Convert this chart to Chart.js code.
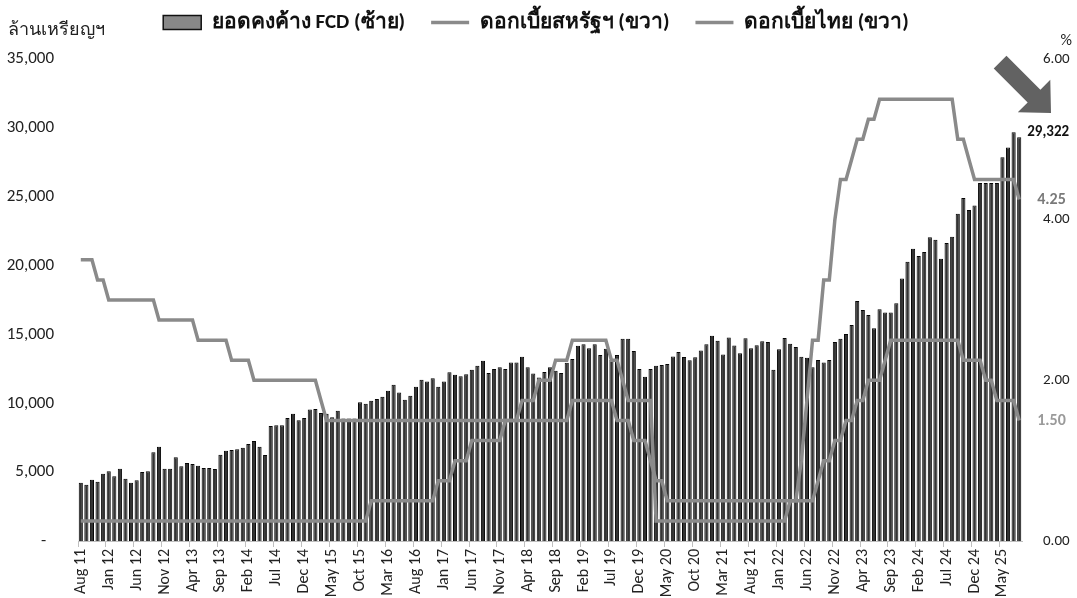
<!DOCTYPE html>
<html>
<head>
<meta charset="utf-8">
<script src="https://cdn.jsdelivr.net/npm/chart.js@4/dist/chart.umd.min.js"></script>
<style>
  html, body { margin: 0; padding: 0; background: #fff; }
  #wrap { width: 1077px; height: 598px; }
</style>
</head>
<body>
<div id="wrap"><canvas id="chart" width="1077" height="598"></canvas></div>
<script>
// Monthly data, Aug 2011 - Aug 2025
var startYear = 2011;
var startMonth = 7; // August
var monthNames = ['Jan', 'Feb', 'Mar', 'Apr', 'May', 'Jun', 'Jul', 'Aug', 'Sep', 'Oct', 'Nov', 'Dec'];

// FCD outstanding, million USD (left axis)
var fcdBalance = [
  4230, 4090, 4450, 4300, 4890, 5060, 4700, 5250, 4520, 4230, 4410, 5010,
  5060, 6440, 6850, 5250, 5250, 6080, 5420, 5660, 5590, 5470, 5300, 5300,
  5230, 6270, 6560, 6610, 6660, 6770, 7040, 7260, 6850, 6240, 8350, 8400,
  8400, 8930, 9240, 8760, 8930, 9540, 9580, 9290, 9240, 8980, 9460, 8900,
  8900, 8900, 10070, 9970, 10190, 10310, 10480, 10910, 11350, 10790, 10260, 10550,
  11200, 11710, 11590, 11810, 11200, 11590, 12250, 12070, 11960, 12100, 12440, 12730,
  13090, 12200, 12490, 12610, 12490, 12970, 12970, 13380, 12610, 12170, 11880, 12270,
  12610, 12370, 12200, 12940, 13210, 14180, 14280, 13990, 14280, 13500, 13960, 13140,
  13500, 14690, 14690, 13790, 12490, 11930, 12490, 12730, 12780, 12850, 13400, 13720,
  13360, 13130, 13340, 13830, 14280, 14900, 14550, 13550, 14780, 14200, 13630, 14730,
  13990, 14210, 14500, 14450, 12440, 13920, 14740, 14330, 14080, 13380, 13310, 12610,
  13140, 12970, 13140, 14450, 14690, 15030, 15680, 17430, 16770, 16410, 15440, 16820,
  16600, 16600, 17260, 19070, 20280, 21220, 20690, 20980, 22050, 21870, 20500, 21630,
  22090, 23760, 24900, 24030, 24370, 26000, 26000, 26000, 26000, 27860, 28580, 29690,
  29322
];

// US policy rate, % (right axis)
var usRate = [
  0.25, 0.25, 0.25, 0.25, 0.25, 0.25, 0.25, 0.25, 0.25, 0.25, 0.25, 0.25,
  0.25, 0.25, 0.25, 0.25, 0.25, 0.25, 0.25, 0.25, 0.25, 0.25, 0.25, 0.25,
  0.25, 0.25, 0.25, 0.25, 0.25, 0.25, 0.25, 0.25, 0.25, 0.25, 0.25, 0.25,
  0.25, 0.25, 0.25, 0.25, 0.25, 0.25, 0.25, 0.25, 0.25, 0.25, 0.25, 0.25,
  0.25, 0.25, 0.25, 0.25, 0.50, 0.50, 0.50, 0.50, 0.50, 0.50, 0.50, 0.50,
  0.50, 0.50, 0.50, 0.50, 0.75, 0.75, 0.75, 1.00, 1.00, 1.00, 1.25, 1.25,
  1.25, 1.25, 1.25, 1.25, 1.50, 1.50, 1.50, 1.75, 1.75, 1.75, 2.00, 2.00,
  2.00, 2.25, 2.25, 2.25, 2.50, 2.50, 2.50, 2.50, 2.50, 2.50, 2.50, 2.25,
  2.25, 2.00, 1.75, 1.75, 1.75, 1.75, 1.75, 0.25, 0.25, 0.25, 0.25, 0.25,
  0.25, 0.25, 0.25, 0.25, 0.25, 0.25, 0.25, 0.25, 0.25, 0.25, 0.25, 0.25,
  0.25, 0.25, 0.25, 0.25, 0.25, 0.25, 0.25, 0.50, 0.50, 1.00, 1.75, 2.50,
  2.50, 3.25, 3.25, 4.00, 4.50, 4.50, 4.75, 5.00, 5.00, 5.25, 5.25, 5.50,
  5.50, 5.50, 5.50, 5.50, 5.50, 5.50, 5.50, 5.50, 5.50, 5.50, 5.50, 5.50,
  5.50, 5.00, 5.00, 4.75, 4.50, 4.50, 4.50, 4.50, 4.50, 4.50, 4.50, 4.50,
  4.25
];

// Thai policy rate, % (right axis)
var thaiRate = [
  3.50, 3.50, 3.50, 3.25, 3.25, 3.00, 3.00, 3.00, 3.00, 3.00, 3.00, 3.00,
  3.00, 3.00, 2.75, 2.75, 2.75, 2.75, 2.75, 2.75, 2.75, 2.50, 2.50, 2.50,
  2.50, 2.50, 2.50, 2.25, 2.25, 2.25, 2.25, 2.00, 2.00, 2.00, 2.00, 2.00,
  2.00, 2.00, 2.00, 2.00, 2.00, 2.00, 2.00, 1.75, 1.50, 1.50, 1.50, 1.50,
  1.50, 1.50, 1.50, 1.50, 1.50, 1.50, 1.50, 1.50, 1.50, 1.50, 1.50, 1.50,
  1.50, 1.50, 1.50, 1.50, 1.50, 1.50, 1.50, 1.50, 1.50, 1.50, 1.50, 1.50,
  1.50, 1.50, 1.50, 1.50, 1.50, 1.50, 1.50, 1.50, 1.50, 1.50, 1.50, 1.50,
  1.50, 1.50, 1.50, 1.50, 1.75, 1.75, 1.75, 1.75, 1.75, 1.75, 1.75, 1.75,
  1.50, 1.50, 1.50, 1.25, 1.25, 1.25, 1.00, 0.75, 0.75, 0.50, 0.50, 0.50,
  0.50, 0.50, 0.50, 0.50, 0.50, 0.50, 0.50, 0.50, 0.50, 0.50, 0.50, 0.50,
  0.50, 0.50, 0.50, 0.50, 0.50, 0.50, 0.50, 0.50, 0.50, 0.50, 0.50, 0.50,
  0.75, 1.00, 1.00, 1.25, 1.25, 1.50, 1.50, 1.75, 1.75, 2.00, 2.00, 2.00,
  2.25, 2.50, 2.50, 2.50, 2.50, 2.50, 2.50, 2.50, 2.50, 2.50, 2.50, 2.50,
  2.50, 2.50, 2.25, 2.25, 2.25, 2.25, 2.00, 2.00, 1.75, 1.75, 1.75, 1.75,
  1.50
];

var seriesNames = ['ยอดคงค้าง FCD (ซ้าย)', 'ดอกเบี้ยสหรัฐฯ (ขวา)', 'ดอกเบี้ยไทย (ขวา)'];
var leftUnit = 'ล้านเหรียญฯ';
var rightUnit = '%';

// category labels like "Aug 11"
var labels = fcdBalance.map(function (v, i) {
  var m = startMonth + i;
  var yy = (startYear + Math.floor(m / 12)) % 100;
  return monthNames[m % 12] + ' ' + (yy < 10 ? '0' + yy : yy);
});

var FONT = 'Calibri, Carlito, "Liberation Sans", "Noto Sans", sans-serif';
var LINE_GREY = '#8a8a8a';

// fixed legend height so the plot starts where the reference does,
// and pull the legend row up a little (its padding also spaces the items)
var legendHeight = {
  id: 'legendHeight',
  beforeInit: function (chart) {
    var fit = chart.legend.fit;
    chart.legend.fit = function () {
      fit.bind(chart.legend)();
      this.height = 59;
    };
  },
  afterLayout: function (chart) {
    chart.legend.top -= 14;
    chart.legend.bottom -= 14;
  }
};

// unit captions, end-of-series labels and the arrow
var extras = {
  id: 'extras',
  afterDraw: function (chart) {
    var ctx = chart.ctx;
    var last = fcdBalance.length - 1;
    ctx.save();
    ctx.textBaseline = 'middle';

    ctx.fillStyle = '#222';
    ctx.font = '18px ' + FONT;
    ctx.textAlign = 'left';
    ctx.fillText(leftUnit, 8, 30);
    ctx.font = '16px ' + FONT;
    ctx.textAlign = 'right';
    ctx.fillText(rightUnit, 1072, 41);

    var bar = chart.getDatasetMeta(0).data[last];
    var us = chart.getDatasetMeta(1).data[last];
    var th = chart.getDatasetMeta(2).data[last];
    ctx.textAlign = 'left';
    ctx.font = 'bold 15px ' + FONT;
    ctx.fillStyle = '#111';
    ctx.fillText(fcdBalance[last].toLocaleString('en-US'), bar.x + 8, bar.y - 5);
    ctx.font = 'bold 16px ' + FONT;
    ctx.fillStyle = '#7a7a7a';
    ctx.fillText(usRate[last].toFixed(2), us.x + 18, us.y);
    ctx.fillStyle = '#9a9a9a';
    ctx.fillText(thaiRate[last].toFixed(2), th.x + 18, th.y);

    // arrow pointing down-right
    ctx.translate(1051, 113);
    ctx.rotate(Math.PI / 4);
    ctx.fillStyle = '#626262';
    ctx.beginPath();
    ctx.moveTo(0, 0);
    ctx.lineTo(-24, -23);
    ctx.lineTo(-24, -9);
    ctx.lineTo(-72, -9);
    ctx.lineTo(-72, 9);
    ctx.lineTo(-24, 9);
    ctx.lineTo(-24, 23);
    ctx.closePath();
    ctx.fill();
    ctx.restore();
  }
};

new Chart(document.getElementById('chart'), {
  type: 'bar',
  data: {
    labels: labels,
    datasets: [
      {
        label: seriesNames[0],
        data: fcdBalance,
        yAxisID: 'y',
        backgroundColor: '#333333',
        borderColor: '#050505',
        borderWidth: 1,
        barPercentage: 0.74,
        categoryPercentage: 1,
        pointStyle: 'rect',
        order: 2
      },
      {
        type: 'line',
        label: seriesNames[1],
        data: usRate,
        yAxisID: 'y1',
        borderColor: LINE_GREY,
        backgroundColor: LINE_GREY,
        borderWidth: 3.5,
        pointRadius: 0,
        tension: 0,
        pointStyle: 'line',
        order: 1
      },
      {
        type: 'line',
        label: seriesNames[2],
        data: thaiRate,
        yAxisID: 'y1',
        borderColor: LINE_GREY,
        backgroundColor: LINE_GREY,
        borderWidth: 3.5,
        pointRadius: 0,
        tension: 0,
        pointStyle: 'line',
        order: 0
      }
    ]
  },
  options: {
    responsive: false,
    animation: false,
    layout: { padding: { left: 0, right: 5, top: 0, bottom: 0 } },
    plugins: {
      tooltip: { enabled: false },
      legend: {
        position: 'top',
        labels: {
          usePointStyle: true,
          pointStyleWidth: 38,
          boxHeight: 14,
          padding: 26,
          color: '#111',
          font: { family: FONT, size: 21, weight: 'bold' },
          generateLabels: function (chart) {
            var items = Chart.defaults.plugins.legend.labels.generateLabels(chart);
            items.sort(function (a, b) { return a.datasetIndex - b.datasetIndex; });
            items[0].fillStyle = '#888';
            items[0].strokeStyle = '#111';
            items[0].lineWidth = 1.5;
            return items;
          }
        }
      }
    },
    scales: {
      x: {
        offset: true,
        grid: {
          offset: true,
          drawOnChartArea: false,
          drawTicks: true,
          tickLength: 6,
          color: function (ctx) { return ctx.index % 5 === 0 ? '#bfbfbf' : 'rgba(0,0,0,0)'; }
        },
        border: { display: true, color: '#bfbfbf' },
        ticks: {
          autoSkip: false,
          minRotation: 90,
          maxRotation: 90,
          padding: 2,
          color: '#222',
          font: { family: FONT, size: 16 },
          callback: function (v, i) { return i % 5 === 0 ? labels[i] : ''; }
        },
        afterFit: function (s) { s.height = 57; }
      },
      y: {
        position: 'left',
        min: 0,
        max: 35000,
        grid: { display: false },
        border: { display: false },
        ticks: {
          stepSize: 5000,
          padding: 16,
          color: '#222',
          font: { family: FONT, size: 17 },
          callback: function (v) { return v === 0 ? '-  ' : v.toLocaleString('en-US'); }
        },
        afterFit: function (s) { s.width = 78; }
      },
      y1: {
        position: 'right',
        min: 0,
        max: 6,
        grid: { display: false },
        border: { display: false },
        ticks: {
          stepSize: 2,
          padding: 13,
          color: '#222',
          font: { family: FONT, size: 15 },
          callback: function (v) { return v.toFixed(2); }
        },
        afterFit: function (s) { s.width = 50; }
      }
    }
  },
  plugins: [legendHeight, extras]
});
</script>
</body>
</html>
